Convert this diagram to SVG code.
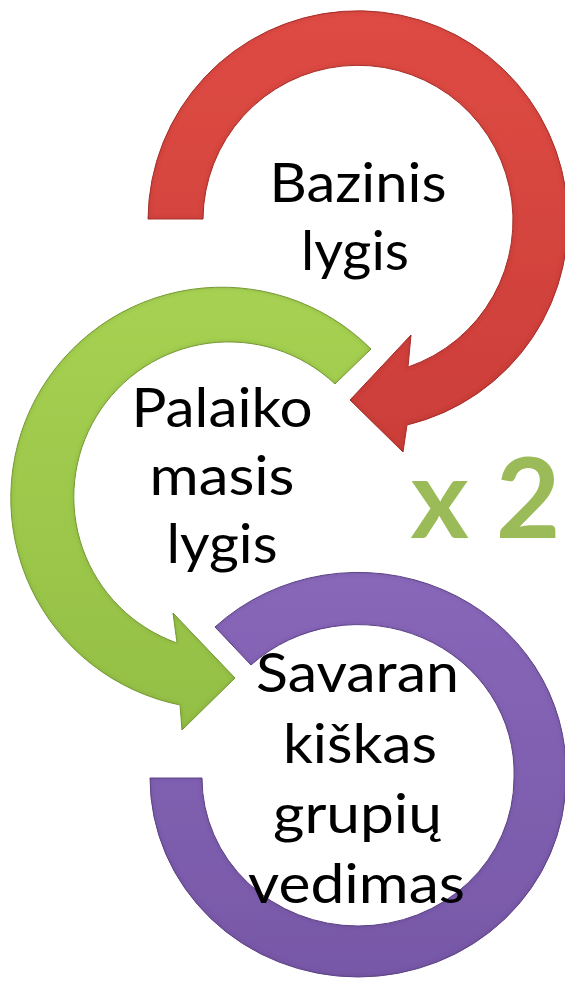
<svg xmlns="http://www.w3.org/2000/svg" width="565" height="982" viewBox="0 0 565 982">
  <defs>
    <linearGradient id="gRed" x1="0" y1="0" x2="0" y2="1">
      <stop offset="0" stop-color="#DE4B44"/>
      <stop offset="1" stop-color="#CB3E39"/>
    </linearGradient>
    <linearGradient id="gGreen" x1="0" y1="0" x2="0" y2="1">
      <stop offset="0" stop-color="#A6D152"/>
      <stop offset="1" stop-color="#93BF45"/>
    </linearGradient>
    <linearGradient id="gPurple" x1="0" y1="0" x2="0" y2="1">
      <stop offset="0" stop-color="#8867B9"/>
      <stop offset="1" stop-color="#7758A7"/>
    </linearGradient>
    <filter id="bevel" x="-5%" y="-5%" width="110%" height="110%">
      <feGaussianBlur in="SourceAlpha" stdDeviation="2.5" result="blur"/>
      <feComposite in="SourceAlpha" in2="blur" operator="arithmetic" k1="0" k2="1" k3="-1" k4="0" result="rim"/>
      <feFlood flood-color="#000000" flood-opacity="0.35" result="flood"/>
      <feComposite in="flood" in2="rim" operator="in" result="shadow"/>
      <feMerge>
        <feMergeNode in="SourceGraphic"/>
        <feMergeNode in="shadow"/>
      </feMerge>
    </filter>
  </defs>
  <style>
    .lbl { font-family: Lato, "Liberation Sans", sans-serif; font-size: 55px; fill: #000; text-anchor: middle; }
    .big { font-family: Lato, "Liberation Sans", sans-serif; font-size: 112px; font-weight: 700; fill: #9BBB59; text-anchor: middle; }
    .red { fill: url(#gRed); stroke: #B23530; stroke-width: 1; stroke-linejoin: round; filter: url(#bevel); }
    .green { fill: url(#gGreen); stroke: #7FA33C; stroke-width: 1; stroke-linejoin: round; filter: url(#bevel); }
    .purple { fill: url(#gPurple); stroke: #64498F; stroke-width: 1; stroke-linejoin: round; filter: url(#bevel); }
  </style>
  <rect x="0" y="0" width="565" height="982" fill="#FFFFFF"/>
  <g id="connectors"/>
  <g id="node-bazinis">
    <path class="red" d="M 148,219 A 210 210 0 1 1 407,425 L 403,452 L 350,400 L 411,335 L 408,367 A 155 155 0 1 0 203,219 Z"/>
    <text class="lbl" x="358" y="202" textLength="177" lengthAdjust="spacingAndGlyphs">Bazinis</text>
    <text class="lbl" x="355" y="270" textLength="108" lengthAdjust="spacingAndGlyphs">lygis</text>
  </g>
  <g id="node-palaikomasis">
    <path class="green" d="M 371,349 A 211 211 0 1 0 180,705 L 182,730 L 235,678 L 173,613 L 177,643 A 155 155 0 1 1 335,384 Z"/>
    <text class="lbl" x="222" y="427" textLength="181" lengthAdjust="spacingAndGlyphs">Palaiko</text>
    <text class="lbl" x="222" y="495" textLength="145" lengthAdjust="spacingAndGlyphs">masis</text>
    <text class="lbl" x="222" y="563" textLength="111" lengthAdjust="spacingAndGlyphs">lygis</text>
  </g>
  <g id="node-savarankiskas">
    <path class="purple" d="M 215,627 A 208 199 0 0 1 566,778 A 208 199 0 0 1 150,778 L 202,778 A 156 148 0 0 0 514,778 A 156 148 0 0 0 251,665 Z"/>
    <text class="lbl" x="357.5" y="692" textLength="203" lengthAdjust="spacingAndGlyphs">Savaran</text>
    <text class="lbl" x="360" y="763" textLength="154" lengthAdjust="spacingAndGlyphs">kiškas</text>
    <text class="lbl" x="357.5" y="833" textLength="169" lengthAdjust="spacingAndGlyphs">grupių</text>
    <text class="lbl" x="356.5" y="903" textLength="217" lengthAdjust="spacingAndGlyphs">vedimas</text>
  </g>
  <g id="node-x2">
    <text class="big" x="485.5" y="538" textLength="150" lengthAdjust="spacingAndGlyphs">x 2</text>
  </g>
</svg>
